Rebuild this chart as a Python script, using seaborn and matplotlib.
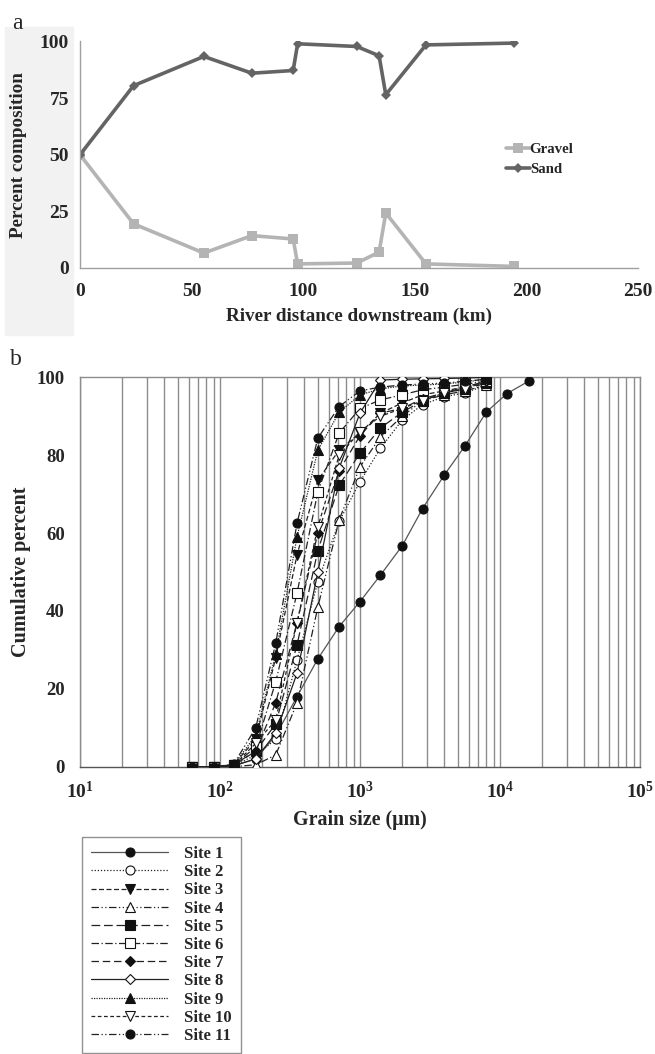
import matplotlib
matplotlib.use("Agg")
import matplotlib.pyplot as plt
import seaborn as sns
from matplotlib.ticker import LogLocator, NullFormatter, FixedLocator
from matplotlib.patches import Rectangle
from matplotlib.lines import Line2D

# --- panel a: sediment composition downstream
distance_km = [0, 24, 55.5, 77, 95.5, 97.5, 124, 134, 137, 155, 194.5]
gravel_pct = [50, 19.5, 6.6, 14.3, 12.8, 1.8, 2.2, 7.0, 24.3, 1.8, 0.7]
sand_pct = [50, 80.5, 93.4, 86.0, 87.2, 99.0, 97.8, 93.7, 76.5, 98.5, 99.3]

# --- panel b: cumulative grain size curves
grain_um = [63, 90, 125, 180, 250, 355, 500, 710, 1000, 1400, 2000, 2800, 4000, 5600, 8000, 11200, 16000]
site_1 = [0, 0, 0.3, 2, 8, 18, 27.7, 36, 42.4, 49.2, 56.7, 66.3, 74.9, 82.3, 91.1, 95.8, 99]
site_2 = [0, 0, 0.2, 3, 7, 27.4, 47.5, 63, 73.2, 81.8, 89, 93, 95, 96, 98]
site_3 = [0, 0, 0.5, 7, 28, 54.4, 73.6, 81.3, 85.7, 90.8, 93.4, 95.5, 96.5, 97.5, 98.5]
site_4 = [0, 0, 0, 0.5, 3, 16.4, 41, 63.4, 77, 84.7, 90, 94, 95.5, 96.5, 98]
site_5 = [0, 0, 0.5, 4, 11, 31.3, 55.5, 72.3, 80.5, 87, 91, 94, 96, 97, 98.5]
site_6 = [0, 0, 0.4, 5, 21.8, 44.6, 70.6, 85.7, 92, 94.2, 95.5, 96.8, 97.5, 98.2, 99]
site_7 = [0, 0, 0.3, 4, 16.4, 37, 60, 76, 85, 90.8, 92, 94.5, 96, 97.5, 99]
site_8 = [0, 0, 0.2, 2, 8.6, 24, 50, 76.7, 90.8, 99.3, 99.5, 99.6, 99.7, 99.8, 100]
site_9 = [0, 0, 0.5, 8, 29, 59, 81.3, 91, 95.5, 97, 97.8, 98, 98.3, 98.8, 99.5]
site_10 = [0, 0, 0.3, 6, 12, 37, 61.6, 80, 86, 90, 92, 94, 96, 97, 99]
site_11 = [0, 0, 0.6, 10, 31.7, 62.5, 84.4, 92.5, 96.5, 97.5, 98, 98.3, 98.5, 99, 99.5]
site_names = ["Site %d" % i for i in range(1, 12)]
site_values = [site_1, site_2, site_3, site_4, site_5, site_6, site_7, site_8, site_9, site_10, site_11]

grain_ticks = [10, 100, 1000, 10000, 100000]
grain_tick_labels = [r"$\mathbf{10^{1}}$", r"$\mathbf{10^{2}}$", r"$\mathbf{10^{3}}$",
                     r"$\mathbf{10^{4}}$", r"$\mathbf{10^{5}}$"]

# marker, filled?, dash pattern
site_styles = [
    ("o", True, "-"),
    ("o", False, (0, (1, 1.5))),
    ("v", True, (0, (4, 2))),
    ("^", False, (0, (6, 2, 1, 2, 1, 2))),
    ("s", True, (0, (7, 3))),
    ("s", False, (0, (6, 2, 1, 2))),
    ("D", True, (0, (6, 3))),
    ("D", False, "-"),
    ("^", True, (0, (1, 1))),
    ("v", False, (0, (3, 2))),
    ("o", True, (0, (6, 2, 1, 2, 1, 2))),
]

sns.set_style("white")
plt.rcParams["font.family"] = ["Liberation Serif", "DejaVu Serif"]
plt.rcParams["font.weight"] = "bold"
plt.rcParams["mathtext.fontset"] = "custom"
plt.rcParams["mathtext.bf"] = "Liberation Serif:bold"
plt.rcParams["mathtext.rm"] = "Liberation Serif"

W, H = 655, 1054
fig = plt.figure(figsize=(W / 100, H / 100), dpi=100)
fig.patches.append(Rectangle((5 / W, 1 - 335 / H), 68 / W, 308 / H,
                             transform=fig.transFigure, color="#f2f2f2", zorder=-5))

# ------------- panel a
ax1 = fig.add_axes([80 / W, 1 - 268 / H, 558 / W, 226.5 / H])
ax1.patch.set_alpha(0)
sns.lineplot(x=distance_km, y=gravel_pct, ax=ax1, color="#b4b4b4", lw=2.6,
             marker="s", markersize=7, markeredgewidth=0, label="Gravel")
sns.lineplot(x=distance_km, y=sand_pct, ax=ax1, color="#646464", lw=2.6,
             marker="D", markersize=5, markeredgewidth=0, label="Sand")
ax1.set_xlim(0, 250)
ax1.set_ylim(0, 100)
ax1.set_xticks([0, 50, 100, 150, 200, 250])
ax1.set_yticks([0, 25, 50, 75, 100])
for s in ["top", "right"]:
    ax1.spines[s].set_visible(False)
for s in ["left", "bottom"]:
    ax1.spines[s].set_color("#a0a0a0")
    ax1.spines[s].set_linewidth(1)
ax1.tick_params(direction="out", length=4, color="#a0a0a0", labelsize=14)
ax1.tick_params(axis="x", pad=7)
ax1.tick_params(axis="y", pad=4)
ax1.set_xlabel("River distance downstream (km)", fontsize=13.8, fontweight="bold", labelpad=5)
ax1.set_ylabel("Percent composition", fontsize=13.8, fontweight="bold", labelpad=9)
ax1.legend(loc="upper left", bbox_to_anchor=(0.75, 0.585), frameon=False, fontsize=10.7,
           handlelength=1.6, handletextpad=0.0, labelspacing=0.45, borderpad=0)

# ------------- panel b
ax2 = fig.add_axes([80 / W, 1 - 766.7 / H, 560 / W, 389.4 / H])
handles = []
for name, vals, (mk, filled, ls) in zip(site_names, site_values, site_styles):
    xs = grain_um[:len(vals)]
    lc = "#555555" if name == "Site 1" else "#222222"
    ms = 6.5 if mk != "D" else 5.5
    fc = "#111111" if filled else "white"
    sns.lineplot(x=xs, y=vals, ax=ax2, color=lc, lw=0.9, linestyle=ls,
                 marker=mk, markersize=ms, markerfacecolor=fc,
                 markeredgecolor="#111111", markeredgewidth=0.8, zorder=3)
    handles.append(Line2D([], [], color=lc, lw=0.9, linestyle=ls, marker=mk,
                          markersize=ms, markerfacecolor=fc,
                          markeredgecolor="#111111", markeredgewidth=0.8))
ax2.set_xscale("log")
ax2.set_xlim(10, 100000)
ax2.set_ylim(0, 100)
ax2.xaxis.set_major_locator(FixedLocator(grain_ticks))
ax2.set_xticklabels(grain_tick_labels)
ax2.xaxis.set_minor_locator(LogLocator(base=10, subs=range(2, 10), numticks=50))
ax2.xaxis.set_minor_formatter(NullFormatter())
ax2.set_yticks([0, 20, 40, 60, 80, 100])
ax2.grid(True, which="both", axis="x", color="#8c8c8c", lw=1)
ax2.set_axisbelow(True)
for s in ["top", "right", "left", "bottom"]:
    ax2.spines[s].set_color("#8c8c8c")
    ax2.spines[s].set_linewidth(1)
ax2.spines["bottom"].set_color("#555555")
ax2.tick_params(axis="y", direction="out", length=5, color="#8c8c8c", labelsize=13.5, pad=6)
ax2.tick_params(axis="x", which="both", length=0, labelsize=14, pad=10)
ax2.set_xlabel("Grain size (\u00b5m)", fontsize=14.4, fontweight="bold", labelpad=6)
ax2.set_ylabel("Cumulative percent", fontsize=14.5, fontweight="bold", labelpad=4)

fig.legend(handles, site_names, loc="upper left", bbox_to_anchor=(82 / W, 1 - 837 / H),
           fontsize=12, frameon=True, fancybox=False, edgecolor="#777777",
           handlelength=4.6, handletextpad=1.0, labelspacing=0.13, borderpad=0.55,
           borderaxespad=0)

fig.text(12 / W, 1 - 29 / H, "a", fontsize=17, fontweight="normal")
fig.text(10 / W, 1 - 365 / H, "b", fontsize=17, fontweight="normal")

fig.savefig("out.png", dpi=100)
